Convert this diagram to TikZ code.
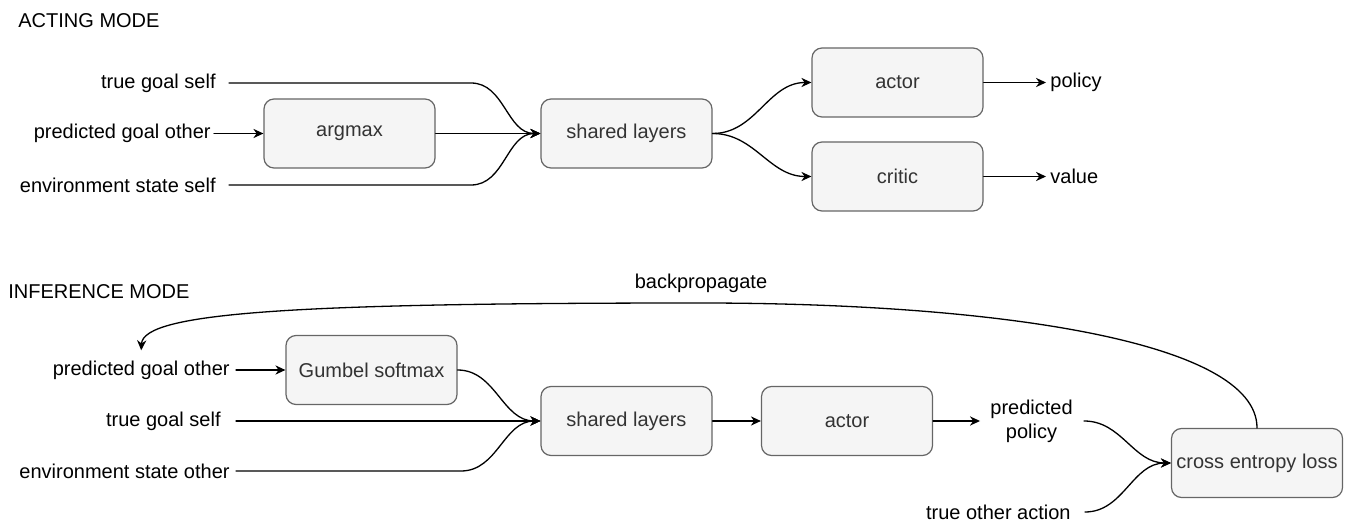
\documentclass[tikz,border=0pt]{standalone}
\usepackage{fontspec}
\setmainfont{Liberation Sans}
\usetikzlibrary{arrows.meta}
\definecolor{boxfill}{HTML}{F5F5F5}
\definecolor{boxline}{HTML}{666666}
\definecolor{boxtext}{HTML}{333333}

\begin{document}
\begin{tikzpicture}[x=0.5pt,y=-0.5pt,line cap=round,line join=round,
  >={Stealth[length=5pt,width=4.6pt,inset=1.6pt]},
  every node/.style={inner sep=0pt,font=\fontsize{10}{12}\selectfont},
  blk/.style={draw=boxline,fill=boxfill,rounded corners=5pt,line width=0.6pt,
    minimum width=85.5pt,minimum height=34.5pt,text=boxtext},
  wire/.style={->,line width=0.65pt}]
  \useasboundingbox (0,0) rectangle (1348,523);
  % acting mode
  \node[anchor=west] (actmode) at (18,21) {ACTING MODE};
  \node[blk] (argmax) at (349.5,133.5) {argmax};
  \node[blk] (shared) at (626.5,133.5) {shared layers};
  \node[blk] (actor) at (897.5,82.5) {actor};
  \node[blk] (critic) at (897.5,176.5) {critic};
  \node[anchor=east] (goalself) at (216,83) {true goal self};
  \node[anchor=east] (goalother) at (211,133.5) {predicted goal other};
  \node[anchor=east] (envself) at (216,185) {environment state self};
  \node[anchor=west] (policy) at (1050,82.5) {policy};
  \node[anchor=west] (value) at (1050,176.5) {value};
  \draw[wire] ([xshift=6.5pt]goalself.east) -- ++(242,0) to[out=0,in=180] (shared.west);
  \draw[wire] ([xshift=1.5pt]goalother.east) -- (argmax.west);
  \draw[wire] (argmax.east) -- (shared.west);
  \draw[wire] ([xshift=6.5pt]envself.east) -- ++(242,0) to[out=0,in=180] (shared.west);
  \draw[wire] (shared.east) to[out=0,in=180] (actor.west);
  \draw[wire] (shared.east) to[out=0,in=180] (critic.west);
  \draw[wire] (actor.east) -- ([xshift=-2pt]policy.west);
  \draw[wire] (critic.east) -- ([xshift=-2pt]value.west);
  % inference mode
  \node[anchor=west] (infmode) at (8,292) {INFERENCE MODE};
  \node[blk] (gumbel) at (371.5,370) {Gumbel softmax};
  \node[blk] (shared2) at (626.5,421) {shared layers};
  \node[blk] (actor2) at (847,421) {actor};
  \node[blk] (loss) at (1257,463) {cross entropy loss};
  \node[anchor=east] (goalother2) at (230,370) {predicted goal other};
  \node[anchor=east] (goalself2) at (221,421) {true goal self};
  \node[anchor=east] (envother) at (230,471) {environment state other};
  \node[anchor=west,align=center] (predpol) at (990,421) {predicted\\policy};
  \node[anchor=east] (otheract) at (1071,512) {true other action};
  \node (backprop) at (701,283) {backpropagate};
  \draw[wire] ([xshift=3pt]goalother2.east) -- (gumbel.west);
  \draw[wire] ([xshift=7.5pt]goalself2.east) -- (shared2.west);
  \draw[wire] ([xshift=3pt]envother.east) -- ++(225,0) to[out=0,in=180] (shared2.west);
  \draw[wire] (gumbel.east) to[out=0,in=180] (shared2.west);
  \draw[wire] (shared2.east) -- (actor2.west);
  \draw[wire] (actor2.east) -- ([xshift=-5pt]predpol.west);
  \draw[wire] ([xshift=5.5pt]predpol.east) to[out=0,in=180] (loss.west);
  \draw[wire] ([xshift=7pt]otheract.east) to[out=0,in=180] (loss.west);
  \draw[wire] (loss.north) .. controls (1257,340) and (990,303) .. (700,303)
    .. controls (300,303) and (143,312) .. ([yshift=5pt]goalother2.north);
\end{tikzpicture}
\end{document}
